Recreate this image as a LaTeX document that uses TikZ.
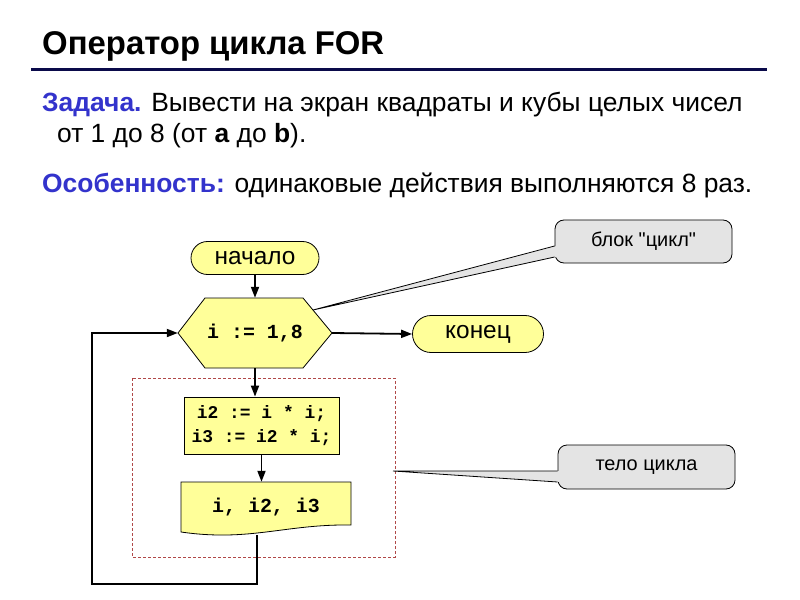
\documentclass[tikz,border=0pt]{standalone}
\usepackage{fontspec}
\setmainfont{Liberation Sans}
\setmonofont{Liberation Mono}
\newfontfamily\notefont[Ligatures=TeXOff]{Liberation Sans}
\usetikzlibrary{arrows.meta, shapes.misc}

\definecolor{blockyellow}{HTML}{FFFF99}
\definecolor{notegray}{HTML}{E4E4E4}
\definecolor{keyblue}{HTML}{3333CC}
\definecolor{rulenavy}{HTML}{0A0A4A}
\definecolor{framered}{HTML}{B04848}
\newcommand{\pxsize}[1]{\fontsize{#1}{#1}\selectfont}

\begin{document}
\begin{tikzpicture}[
  x=1bp, y=-1bp,
  >={Triangle[length=11bp, width=8bp]},
  txt/.style={anchor=base west, inner sep=0pt, font=\pxsize{26.5}},
  term/.style={rounded rectangle, draw=black, fill=blockyellow, line width=0.8bp,
               minimum height=33bp, inner sep=0pt, font=\pxsize{24.5}},
  proc/.style={rectangle, draw=black, fill=blockyellow, line width=0.8bp,
               inner sep=0pt, align=center, font=\ttfamily\bfseries\fontsize{18}{24}\selectfont},
  hexa/.style={draw=black, fill=blockyellow, line width=0.8bp},
  flow/.style={->, line width=1.8bp},
  note/.style={rectangle, rounded corners=9bp, draw=black, fill=notegray, line width=0.8bp,
               minimum width=177bp, minimum height=43bp, font=\notefont\pxsize{20}},
  frame/.style={draw=framered, line width=0.8bp, dash pattern=on 3bp off 2bp},
]
\path[fill=white] (0,0) rectangle (800,600);
\useasboundingbox (0,0) rectangle (800,600);

% --- titulo y texto ---
\node[txt, font=\bfseries\pxsize{33}] (title) at (42,55) {Оператор цикла FOR};
\draw[rulenavy, line width=3bp] (31,70) -- (767,70);
\node[txt] (task)  at (42,112) {\textcolor{keyblue}{\bfseries Задача.} Вывести на экран квадраты и кубы целых чисел};
\node[txt] (task2) at (57,143) {от 1 до 8 (от \textbf{a} до \textbf{b}).};
\node[txt] (feat)  at (42,193) {\textcolor{keyblue}{\bfseries Особенность:} одинаковые действия выполняются 8 раз.};

% --- bloques ---
\draw[frame] (132,378) rectangle (395,557);
\node[term, minimum width=128bp] (start) at (255,258) {начало};
\path[hexa] (178,333) -- (205,298) -- (303,298) -- (332,333) -- (303,368) -- (205,368) -- cycle;
\node[minimum width=154bp, minimum height=70bp, inner sep=0pt,
      font=\ttfamily\bfseries\pxsize{20}] (loop) at (255,333) {i := 1,8};
\node[term, minimum width=131bp, minimum height=37bp] (end) at (478,334) {конец};
\node[proc, minimum width=155bp, minimum height=57bp] (body) at (261.5,425.5) {i2 := i * i;\\i3 := i2 * i;};
\path[hexa] (181,482) -- (351,482) -- (351,525) .. controls (285,524) and (250,542) .. (181,532) -- cycle;
\node[minimum width=170bp, minimum height=50bp, inner sep=0pt,
      font=\ttfamily\bfseries\pxsize{20}] (out) at (266,507) {i, i2, i3};

% --- conexiones ---
\coordinate (outbot) at (257,535);
\coordinate (turn) at (92,584);
\draw[flow] (start.south) -- (loop.north);
\draw[flow] (loop.east) -- (end.west);
\draw[flow] (loop.south) -- (loop.south |- body.north);
\draw[flow] (body.south) -- (body.south |- out.north);
\draw[flow] (outbot) |- (turn) |- (loop.west);

% --- notas ---
\node[note] (cyclenote) at (643.5,241.5) {блок "цикл"};
\coordinate (cyclept) at (313,310);
\fill[notegray] (cyclept) -- ([xshift=2bp, yshift=-4.5bp]cyclenote.west) -- ([xshift=2bp, yshift=-15.5bp]cyclenote.west) -- cycle;
\draw[line width=0.8bp] ([yshift=-4.5bp]cyclenote.west) -- (cyclept) -- ([yshift=-15.5bp]cyclenote.west);

\node[note, minimum height=44bp] (bodynote) at (646.5,467) {тело цикла};
\coordinate (bodypt) at (393,471);
\fill[notegray] (bodypt) -- ([xshift=2bp, yshift=-4bp]bodynote.west) -- ([xshift=2bp, yshift=-15bp]bodynote.west) -- cycle;
\draw[line width=0.8bp] ([yshift=-4bp]bodynote.west) -- (bodypt) -- ([yshift=-15bp]bodynote.west);
\end{tikzpicture}
\end{document}
